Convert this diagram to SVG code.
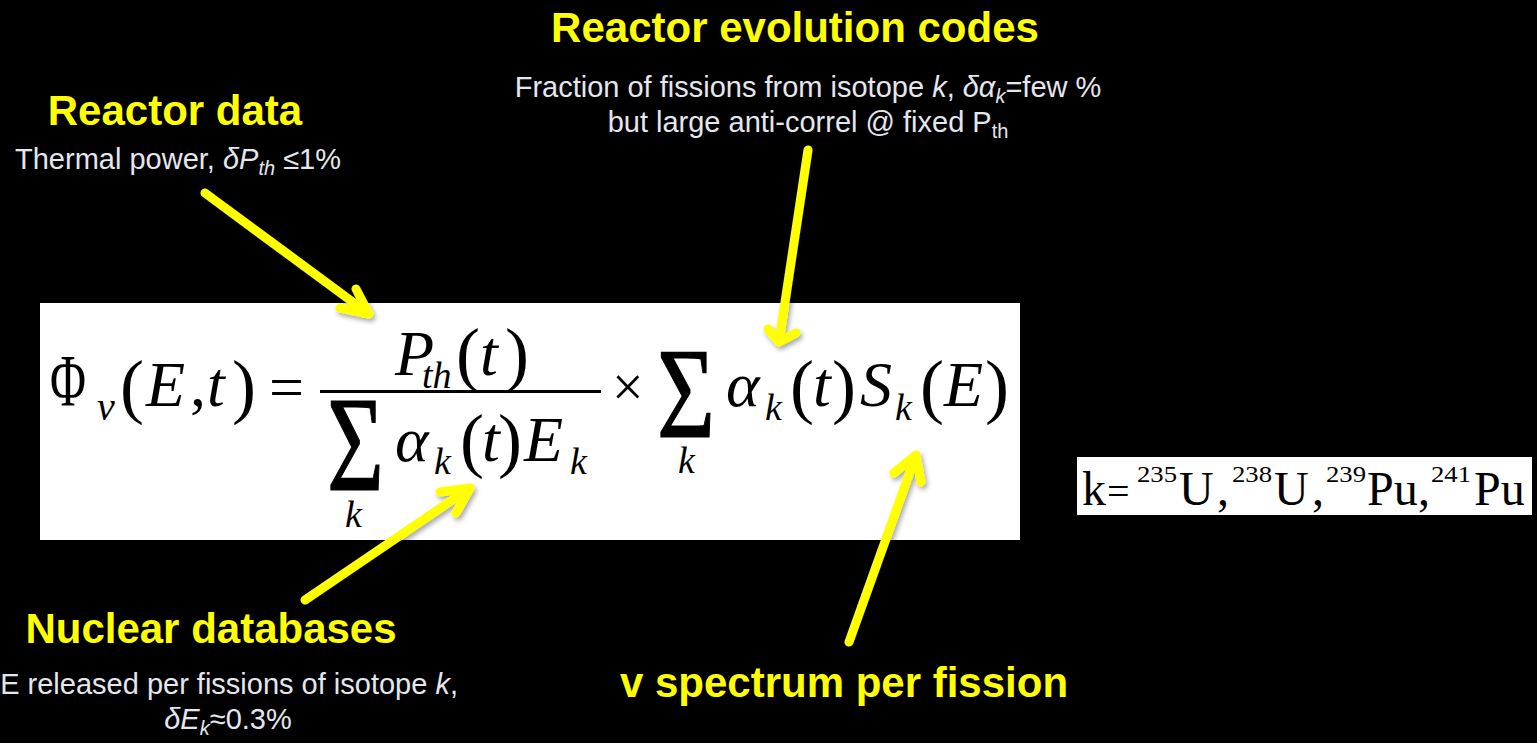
<svg xmlns="http://www.w3.org/2000/svg" width="1537" height="743" viewBox="0 0 1537 743">
<defs>
<style>
.m{font-family:"Liberation Serif","Times New Roman",serif;fill:#000}
.i{font-style:italic}
.sig{stroke:#000;stroke-width:1.2}
.h{font-family:"Liberation Sans",Arial,sans-serif;font-weight:bold;fill:#FFFF00;font-size:42px}
.s{font-family:"Liberation Sans",Arial,sans-serif;fill:#E4E7ED;font-size:29px}
.arr{fill:none;stroke:#FFFF00;stroke-width:9;stroke-linecap:round;stroke-linejoin:round}
</style>
<filter id="sh" x="-20%" y="-20%" width="140%" height="140%">
<feDropShadow dx="2" dy="3" stdDeviation="2.5" flood-color="#000" flood-opacity="0.35"/>
</filter>
</defs>
<rect x="0" y="0" width="1537" height="743" fill="#000"/>

<g id="formula">
<rect x="40" y="303" width="980" height="237" fill="#fff"/>
<text class="m" x="50" y="406" font-size="74" textLength="36" lengthAdjust="spacingAndGlyphs">Φ</text>
<text class="m i" x="97" y="420" font-size="40">ν</text>
<text class="m" x="120" y="410" font-size="72">(</text>
<text class="m i" x="146" y="406" font-size="64">E</text>
<text class="m" x="190" y="406" font-size="64">,</text>
<text class="m i" x="207" y="406" font-size="64">t</text>
<text class="m" x="232" y="410" font-size="72">)</text>
<text class="m" x="269" y="408" font-size="62">=</text>
<rect x="320" y="390" width="281" height="3" fill="#000"/>
<text class="m i" x="395" y="375" font-size="64">P</text>
<text class="m i" x="422" y="388" font-size="38">th</text>
<text class="m" x="456" y="378" font-size="72">(</text>
<text class="m i" x="480" y="375" font-size="64">t</text>
<text class="m" x="505" y="378" font-size="72">)</text>
<text class="m sig" x="327" y="490" font-size="136" textLength="57" lengthAdjust="spacingAndGlyphs">Σ</text>
<text class="m i" x="345" y="527" font-size="38">k</text>
<text class="m i" x="395" y="461" font-size="64">α</text>
<text class="m i" x="434" y="474" font-size="38">k</text>
<text class="m" x="460" y="464" font-size="72">(</text>
<text class="m i" x="482" y="461" font-size="64">t</text>
<text class="m" x="498" y="464" font-size="72">)</text>
<text class="m i" x="524" y="461" font-size="64">E</text>
<text class="m i" x="570" y="474" font-size="38">k</text>
<text class="m" x="612" y="406" font-size="56">×</text>
<text class="m sig" x="657" y="437" font-size="130" textLength="58" lengthAdjust="spacingAndGlyphs">Σ</text>
<text class="m i" x="678" y="473" font-size="38">k</text>
<text class="m i" x="726" y="406" font-size="64">α</text>
<text class="m i" x="765" y="420" font-size="38">k</text>
<text class="m" x="790" y="410" font-size="72">(</text>
<text class="m i" x="813" y="406" font-size="64">t</text>
<text class="m" x="832" y="410" font-size="72">)</text>
<text class="m i" x="860" y="406" font-size="64">S</text>
<text class="m i" x="895" y="420" font-size="38">k</text>
<text class="m" x="920" y="410" font-size="72">(</text>
<text class="m i" x="944" y="406" font-size="64">E</text>
<text class="m" x="985" y="410" font-size="72">)</text>
</g>

<g id="isotopes">
<rect x="1077" y="457" width="455" height="58" fill="#fff"/>
<text class="m" x="1082" y="505" font-size="48">k</text>
<text class="m" x="1107" y="505" font-size="40">=</text>
<text class="m" x="1137" y="482" font-size="24" textLength="40" lengthAdjust="spacingAndGlyphs">235</text>
<text class="m" x="1179" y="505" font-size="48">U</text>
<text class="m" x="1217" y="505" font-size="48">,</text>
<text class="m" x="1232" y="482" font-size="24" textLength="40" lengthAdjust="spacingAndGlyphs">238</text>
<text class="m" x="1274" y="505" font-size="48">U</text>
<text class="m" x="1312" y="505" font-size="48">,</text>
<text class="m" x="1326" y="482" font-size="24" textLength="40" lengthAdjust="spacingAndGlyphs">239</text>
<text class="m" x="1367" y="505" font-size="48">Pu</text>
<text class="m" x="1418" y="505" font-size="48">,</text>
<text class="m" x="1431" y="482" font-size="24" textLength="40" lengthAdjust="spacingAndGlyphs">241</text>
<text class="m" x="1474" y="505" font-size="48">Pu</text>
</g>

<g id="reactor-data">
<text class="h" x="175" y="125" text-anchor="middle">Reactor data</text>
<text class="s" x="178" y="169" text-anchor="middle">Thermal power, <tspan font-style="italic">δP</tspan><tspan font-style="italic" font-size="20" dy="6">th</tspan><tspan dy="-6"> ≤1%</tspan></text>
</g>

<g id="reactor-evolution">
<text class="h" x="795" y="42" text-anchor="middle">Reactor evolution codes</text>
<text class="s" x="808" y="97" text-anchor="middle">Fraction of fissions from isotope <tspan font-style="italic">k</tspan>, <tspan font-style="italic">δα</tspan><tspan font-style="italic" font-size="20" dy="6">k</tspan><tspan dy="-6">=few %</tspan></text>
<text class="s" x="808" y="132" text-anchor="middle">but large anti-correl @ fixed P<tspan font-size="20" dy="6">th</tspan></text>
</g>

<g id="nuclear-databases">
<text class="h" x="211" y="643" text-anchor="middle">Nuclear databases</text>
<text class="s" x="458" y="694" text-anchor="end">E released per fissions of isotope <tspan font-style="italic">k</tspan>,</text>
<text class="s" x="228" y="729" text-anchor="middle"><tspan font-style="italic">δE</tspan><tspan font-style="italic" font-size="20" dy="6">k</tspan><tspan dy="-6">≈0.3%</tspan></text>
</g>

<g id="spectrum">
<text class="h" x="844" y="697" text-anchor="middle">v spectrum per fission</text>
</g>

<g id="connectors" filter="url(#sh)">
<path class="arr" d="M205,193 L369,314 M356,289 L369,314 L340,308"/>
<path class="arr" d="M305,600 L470,488 M440,492 L470,488 L456,513"/>
<path class="arr" d="M808,150 L779,342 M768,329 L779,342 L796,333"/>
<path class="arr" d="M849,642 L916,455 M894,473 L916,455 L921,482"/>
</g>
</svg>
